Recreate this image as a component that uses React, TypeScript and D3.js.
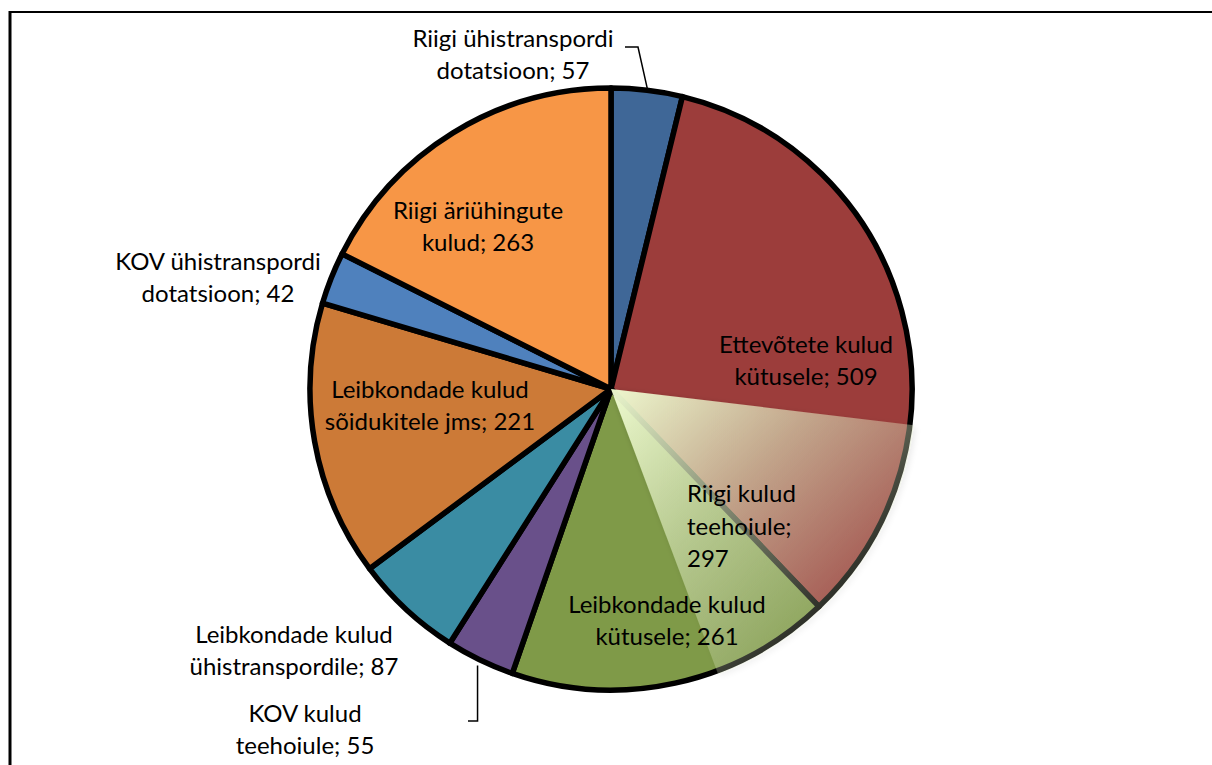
import React from "react";
import * as d3 from "d3";

// ---- data ----
const categories = [
  "Riigi ühistranspordi dotatsioon",
  "Ettevõtete kulud kütusele",
  "Leibkondade kulud kütusele",
  "KOV kulud teehoiule",
  "Leibkondade kulud ühistranspordile",
  "Leibkondade kulud sõidukitele jms",
  "KOV ühistranspordi dotatsioon",
  "Riigi äriühingute kulud",
];
const values = [57, 509, 261, 55, 87, 221, 42, 263];
const colors = ["#3f6797", "#9c3d3b", "#7f9a48", "#69508a", "#3a8ca3", "#cc7a37", "#4f81bd", "#f79646"];

// overlay (ghost) slice "Riigi kulud teehoiule; 297", drawn over the pie
const overlayLabel = ["Riigi kulud", "teehoiule;", "297"];
const overlayFromValue = 402; // cumulative position in pie units
const overlayToValue = 662;

// label text lines
const labelLines: string[][] = [
  ["Riigi ühistranspordi", "dotatsioon; 57"],
  ["Ettevõtete kulud", "kütusele; 509"],
  ["Leibkondade kulud", "kütusele; 261"],
  ["KOV kulud", "teehoiule; 55"],
  ["Leibkondade kulud", "ühistranspordile; 87"],
  ["Leibkondade kulud", "sõidukitele jms; 221"],
  ["KOV ühistranspordi", "dotatsioon; 42"],
  ["Riigi äriühingute", "kulud; 263"],
];

// ---- layout ----
const W = 1212;
const H = 765;
const cx = 611;
const cy = 389;
const R = 301;
const FONT = "Lato, 'Open Sans', sans-serif";
const FS = 24;
const LH = 31.5;
// label anchor: centre x, first baseline y
const labelPos: [number, number][] = [
  [513, 47],
  [806, 353],
  [667, 613],
  [305, 722],
  [294, 643],
  [430, 398],
  [218, 270],
  [478, 219],
];
const overlayLabelPos: [number, number] = [687, 502];

export default function App() {
  const total = d3.sum(values);
  const pie = d3.pie<number>().sort(null).value((d) => d)(values);
  const arc = d3.arc<d3.PieArcDatum<number>>().innerRadius(0).outerRadius(R);
  const ang = d3.scaleLinear().domain([0, total]).range([0, 2 * Math.PI]);
  const overlayArc = d3
    .arc()
    .innerRadius(0)
    .outerRadius(R + 4)
    .startAngle(ang(overlayFromValue))
    .endAngle(ang(overlayToValue));

  const pt = (a: number, r: number): [number, number] => [Math.sin(a) * r, -Math.cos(a) * r];

  // leader 1: Riigi ühistranspordi dotatsioon
  const m0 = (pie[0].startAngle + pie[0].endAngle) / 2;
  const e0 = pt(m0, R + 2);
  const leader0 = [
    [625 - cx, 47 - cy],
    [638 - cx, 47 - cy],
    e0,
  ];
  // leader 2: KOV kulud teehoiule
  const m3 = (pie[3].startAngle + pie[3].endAngle) / 2;
  const e3 = pt(m3, R + 6);
  const leader3 = [e3, [e3[0], 721 - cy], [468 - cx, 721 - cy]];
  const line = d3.line();

  return (
    <svg
      width={W}
      height={H}
      style={{ position: "absolute", left: 0, top: 0, background: "#fff" }}
      fontFamily={FONT}
    >
      <defs>
        <linearGradient
          id="ovg"
          gradientUnits="userSpaceOnUse"
          x1={0}
          y1={0}
          x2={240}
          y2={250}
        >
          <stop offset="0" stopColor="#f1fdd2" stopOpacity={0.97} />
          <stop offset="0.45" stopColor="#e6f3c8" stopOpacity={0.55} />
          <stop offset="1" stopColor="#e0e8c8" stopOpacity={0.08} />
        </linearGradient>
        <filter id="shadow" x="-20%" y="-20%" width="140%" height="140%">
          <feGaussianBlur in="SourceAlpha" stdDeviation="3" />
          <feOffset dx="2" dy="2" result="b" />
          <feComponentTransfer>
            <feFuncA type="linear" slope="0.25" />
          </feComponentTransfer>
          <feMerge>
            <feMergeNode />
            <feMergeNode in="SourceGraphic" />
          </feMerge>
        </filter>
      </defs>
      {/* frame */}
      <line x1={9} y1={12} x2={W} y2={12} stroke="#000" strokeWidth={2} />
      <line x1={10} y1={11} x2={10} y2={H} stroke="#000" strokeWidth={3} />

      <g transform={`translate(${cx},${cy})`}>
        {pie.map((d, i) => (
          <path
            key={i}
            d={arc(d) as string}
            fill={colors[i]}
            stroke="#000"
            strokeWidth={5.5}
            strokeLinejoin="round"
          />
        ))}
        <path d={overlayArc(null as any) as string} fill="url(#ovg)" filter="url(#shadow)" />
        <path d={line(leader0 as any) as string} fill="none" stroke="#000" strokeWidth={1.5} />
        <path d={line(leader3 as any) as string} fill="none" stroke="#000" strokeWidth={1.5} />
      </g>

      {labelLines.map((lines, i) => (
        <text
          key={i}
          x={labelPos[i][0]}
          y={labelPos[i][1]}
          textAnchor="middle"
          fontSize={FS}
          fill="#000"
        >
          {lines.map((t, j) => (
            <tspan key={j} x={labelPos[i][0]} y={labelPos[i][1] + j * LH}>
              {t}
            </tspan>
          ))}
        </text>
      ))}
      <text x={overlayLabelPos[0]} y={overlayLabelPos[1]} fontSize={FS} fill="#000">
        {overlayLabel.map((t, j) => (
          <tspan key={j} x={overlayLabelPos[0]} y={overlayLabelPos[1] + j * 32.5}>
            {t}
          </tspan>
        ))}
      </text>
    </svg>
  );
}
